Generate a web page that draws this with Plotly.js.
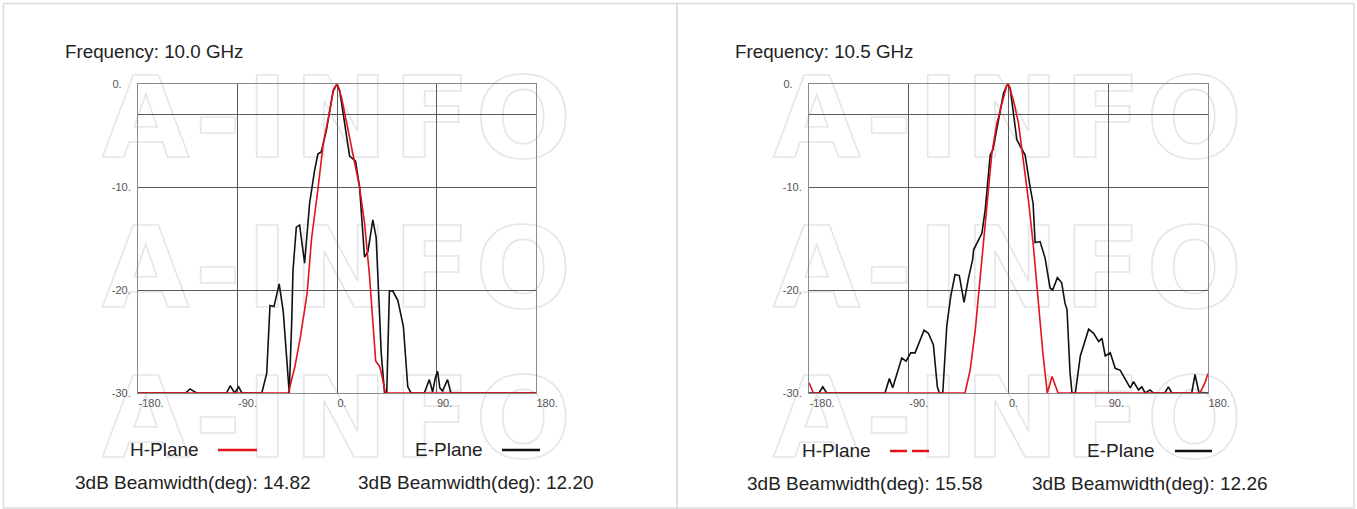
<!DOCTYPE html>
<html>
<head>
<meta charset="utf-8">
<script src="https://cdn.plot.ly/plotly-3.0.1.min.js"></script>
<style>html,body{margin:0;padding:0;background:#fff;}#chart{width:1357px;height:509px;}</style>
</head>
<body>
<div id="chart"></div>
<script>
// ---------- DATA ----------
const xTickVals = [-180, -90, 0, 90, 180];
const xTickText = ['-180.', '-90.', '0.', '90.', '180.'];
const yTickVals = [0, -3, -10, -20, -30];
const yTickText = ['0.\u00a0\u00a0\u00a0', '', '-10.', '-20.', '-30.'];

const titles = ['Frequency: 10.0 GHz', 'Frequency: 10.5 GHz'];
const hLegend = 'H-Plane';
const eLegend = 'E-Plane';
const hBeamwidth = ['3dB Beamwidth(deg): 14.82', '3dB Beamwidth(deg): 15.58'];
const eBeamwidth = ['3dB Beamwidth(deg): 12.20', '3dB Beamwidth(deg): 12.26'];
const watermark = 'A-INFO';

// 10.0 GHz, E-Plane (black)
const e10Angle = [-180,-137,-133,-130,-127,-100,-96.6,-92.5,-89,-86,-68,-63.6,-60.6,-57,-52.3,-48.6,-44.1,-43.2,-41,-39.8,-36.8,-33.8,-29.3,-24.8,-20.3,-17.3,-14.3,-9.6,-3.6,0,2.4,8.4,11.4,16.8,20.4,24.9,27.9,32.4,35.4,37.8,40,43,45,47.4,50.5,55,58,60,64,67,79,83.5,86.5,89,91,93,95.5,100,103,180];
const e10dB    = [-30,-30,-29.6,-29.8,-30,-30,-29.3,-30,-29.4,-30,-30,-28.1,-21.5,-21.6,-19.4,-22.1,-29.1,-30,-23.2,-18.1,-13.9,-13.7,-17.4,-11.6,-8.4,-6.8,-6.6,-4.5,-0.7,0,-0.6,-5,-7,-7.5,-10,-16.8,-16.3,-13.2,-14.9,-20.6,-26.1,-30,-30,-20.1,-20.1,-21,-22.5,-23.5,-29.4,-30,-30,-28.7,-29.9,-28.5,-27.9,-29.5,-29.8,-28.7,-30,-30];
// 10.0 GHz, H-Plane (red)
const h10Angle = [-180,-44,-38,-33,-27,-23,-17,-12.6,-6.6,-3,0,3.9,8.4,14.4,20.4,24.9,29.4,32,35,38.4,40,43.8,180];
const h10dB    = [-30,-30,-27.4,-24.5,-20.3,-15,-10,-5.9,-2.6,-0.5,0,-1.2,-3.6,-6.7,-10,-13.5,-18.6,-22.5,-26.9,-27.4,-28,-30,-30];

// 10.5 GHz, E-Plane (black)
const e105Angle = [-180,-171,-167.6,-164,-111.4,-107.5,-104.5,-96.3,-92.4,-88.2,-84.3,-76.2,-72.3,-67.8,-64.2,-62.4,-59.3,-55.7,-52.1,-48.2,-44.4,-40.1,-36.2,-32.3,-31.5,-28.5,-24,-21,-18,-16.5,-14.1,-9,-4.5,-0.9,1.5,7.5,11.1,15,19.5,22.2,24,28.5,33,37.5,39.9,44.1,48,51,52.8,54,55.5,57.3,60.3,64.8,72.3,76.8,81.3,84.3,87.3,91.8,96.3,100.8,105.3,109.8,112.8,117.3,120.3,123.3,127.8,130.8,141,144.3,147.3,165.3,168.3,171.9,180];
const e105dB    = [-30,-30,-29.4,-30,-30,-28.6,-29.5,-26.6,-26.9,-26.1,-26.1,-23.9,-24.2,-25.3,-29.4,-30,-30,-23.5,-20.6,-18.5,-18.6,-21.2,-18.9,-17,-16.1,-15.4,-14.5,-12.2,-9,-6.9,-6.4,-3.5,-0.9,0,-0.4,-5.4,-6.1,-6.9,-10,-11.6,-15.4,-15.3,-16.9,-19.8,-20,-18.8,-19.3,-21.3,-21.9,-25.5,-28,-30,-30,-26.4,-23.8,-24.2,-25,-24.7,-26.4,-26.1,-27.6,-27.8,-28.7,-29.5,-28.9,-29.7,-29.4,-30,-29.7,-30,-30,-29.4,-30,-30,-28.2,-30,-30];
// 10.5 GHz, H-Plane (red)
const h105Angle = [-180,-176,-39.2,-34.5,-30,-25.5,-21,-18,-15,-10.5,-4.5,-1.5,0,4.5,9,13.5,18,22.5,27,31,35,39.3,44.7,172.8,177.3,180];
const h105dB    = [-29,-30,-30,-27.7,-23.9,-18.7,-13.2,-9.6,-6.7,-3.8,-1.2,-0.1,0,-1.6,-3.8,-7.7,-11.3,-15.8,-21.3,-26.1,-30,-28.4,-30,-30,-29,-28.1];

// ---------- STYLE ----------
const W = 1357, H = 509;
const px = v => v / W;
const py = v => 1 - v / H;
const FONT = 'Liberation Sans, Arial, sans-serif';
const RED = '#e3121b';
const BLACK = '#111111';

const traces = [
  {x: e10Angle, y: e10dB, xaxis: 'x', yaxis: 'y', mode: 'lines', line: {color: BLACK, width: 1.6}, hoverinfo: 'skip'},
  {x: h10Angle, y: h10dB, xaxis: 'x', yaxis: 'y', mode: 'lines', line: {color: RED, width: 1.6}, hoverinfo: 'skip'},
  {x: e105Angle, y: e105dB, xaxis: 'x2', yaxis: 'y2', mode: 'lines', line: {color: BLACK, width: 1.6}, hoverinfo: 'skip'},
  {x: h105Angle, y: h105dB, xaxis: 'x2', yaxis: 'y2', mode: 'lines', line: {color: RED, width: 1.6}, hoverinfo: 'skip'}
];

function xax(d0, d1, anchor) {
  return {
    domain: [px(d0), px(d1)], range: [-180, 180], anchor: anchor,
    tickmode: 'array', tickvals: xTickVals, ticktext: xTickText,
    ticklabelposition: 'outside right',
    showgrid: true, gridcolor: '#5a5a5a', gridwidth: 1,
    showline: true, mirror: true, linecolor: '#8a8a8a', linewidth: 1,
    zeroline: false, ticks: '', fixedrange: true,
    tickfont: {family: FONT, size: 11, color: '#555'}
  };
}
function yax(anchor) {
  return {
    domain: [py(393), py(84)], range: [-30, 0], anchor: anchor,
    tickmode: 'array', tickvals: yTickVals, ticktext: yTickText,
    ticklabelstandoff: 4,
    showgrid: true, gridcolor: '#5a5a5a', gridwidth: 1,
    showline: true, mirror: true, linecolor: '#8a8a8a', linewidth: 1,
    zeroline: false, ticks: '', fixedrange: true,
    tickfont: {family: FONT, size: 11, color: '#555'}
  };
}

const annotations = [];
function txt(text, x, y, size, color) {
  annotations.push({
    text: text, x: px(x), y: py(y), xref: 'paper', yref: 'paper',
    xanchor: 'left', yanchor: 'middle', showarrow: false,
    font: {family: FONT, size: size, color: color}
  });
}
// watermark (outlined and moved behind the plot after render)
[339, 1010].forEach(cx => {
  [118, 268, 418].forEach(cy => {
    annotations.push({
      text: watermark, x: px(cx), y: py(cy), xref: 'paper', yref: 'paper',
      xanchor: 'center', yanchor: 'middle', showarrow: false,
      font: {family: 'DejaVu Sans, sans-serif', size: 113, color: '#ececec', weight: 'bold'}
    });
  });
});
txt(titles[0], 63, 52, 18.8, '#222');
txt(titles[1], 733, 52, 18.8, '#222');
txt(hLegend, 128, 449, 19, '#222');
txt(eLegend, 413, 449, 19, '#222');
txt(hLegend, 800, 450, 19, '#222');
txt(eLegend, 1085, 450, 19, '#222');
txt(hBeamwidth[0], 73, 482, 19, '#222');
txt(eBeamwidth[0], 356, 482, 19, '#222');
txt(hBeamwidth[1], 745, 483, 19, '#222');
txt(eBeamwidth[1], 1030, 483, 19, '#222');

const shapes = [
  {type: 'rect', xref: 'paper', yref: 'paper', x0: px(3.5), x1: px(677), y0: py(508), y1: py(3.5), line: {color: '#dcdcdc', width: 1.5}},
  {type: 'rect', xref: 'paper', yref: 'paper', x0: px(677), x1: px(1354), y0: py(508), y1: py(3.5), line: {color: '#dcdcdc', width: 1.5}},
  {type: 'line', xref: 'paper', yref: 'paper', x0: px(218), x1: px(257), y0: py(450), y1: py(450), line: {color: RED, width: 2.5}},
  {type: 'line', xref: 'paper', yref: 'paper', x0: px(502), x1: px(540), y0: py(450), y1: py(450), line: {color: BLACK, width: 2.5}},
  {type: 'line', xref: 'paper', yref: 'paper', x0: px(890), x1: px(929), y0: py(451), y1: py(451), line: {color: RED, width: 2.5, dash: '17px,5px'}},
  {type: 'line', xref: 'paper', yref: 'paper', x0: px(1175), x1: px(1212), y0: py(451), y1: py(451), line: {color: BLACK, width: 2.5}}
];

const layout = {
  width: W, height: H, autosize: false,
  margin: {l: 0, r: 0, t: 0, b: 0, pad: 0},
  paper_bgcolor: '#ffffff', plot_bgcolor: 'rgba(0,0,0,0)',
  showlegend: false,
  xaxis: xax(138, 536, 'y'),
  yaxis: yax('x'),
  xaxis2: xax(809, 1208, 'y2'),
  yaxis2: yax('x2'),
  annotations: annotations,
  shapes: shapes
};

Plotly.newPlot('chart', traces, layout, {displayModeBar: false, staticPlot: true}).then(() => {
  const below = document.querySelector('#chart .layer-below');
  document.querySelectorAll('#chart .annotation').forEach(g => {
    if (g.textContent === watermark) {
      const t = g.querySelector('.annotation-text');
      t.style.fill = 'none';
      t.style.stroke = '#e6e6e6';
      t.style.strokeWidth = '1.6px';
      t.style.letterSpacing = '5px';
      if (below) below.insertBefore(g, below.firstChild);
    }
  });
});
</script>
</body>
</html>
